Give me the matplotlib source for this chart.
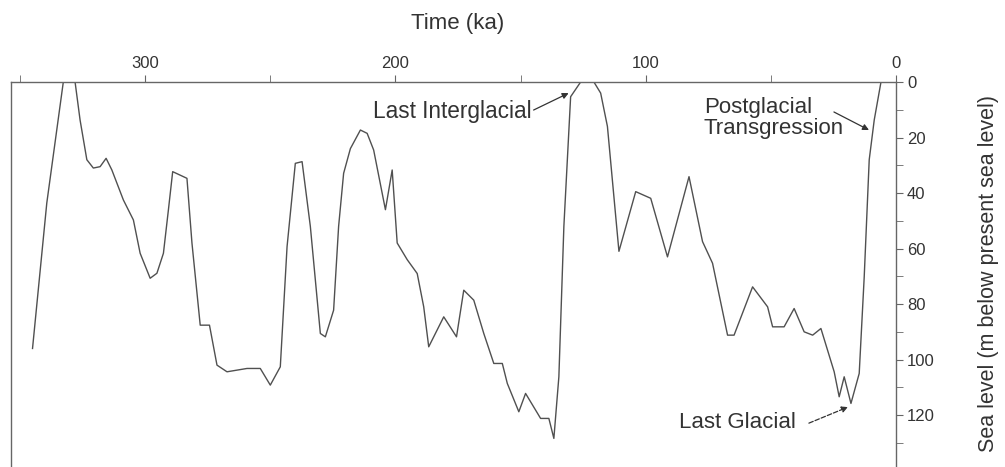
import matplotlib
matplotlib.use("Agg")
import matplotlib.pyplot as plt
from matplotlib.ticker import MultipleLocator

plt.rcParams['font.family'] = ['Liberation Sans', 'DejaVu Sans']

time_ka = [345, 339.3, 332.7, 328, 326, 323.3, 320.7, 318, 315.6, 313.3, 308.7, 304.7,
           302, 298, 295.3, 292.7, 290.7, 289, 283.3, 281.3, 278, 274.3, 271.3, 267.3,
           259.3, 254, 250, 246, 243.3, 240, 237.3, 234, 230, 228, 224.7, 222.7, 220.7,
           218, 214, 211.3, 208.7, 204, 201.3, 199.3, 195.3, 191.3, 188.7, 186.7, 180.7,
           175.6, 172.7, 168.7, 164.7, 160.7, 157.3, 155.3, 150.7, 148, 142, 138.7, 136.7,
           134.7, 132.7, 130, 126, 120.7, 118, 115.3, 110.7, 104, 98, 91.3, 82.7, 77.3,
           73.3, 67.3, 64.7, 57.3, 51.3, 49.3, 44.7, 40.7, 36.7, 33.3, 30, 24.7, 22.7,
           20.7, 18, 14.7, 12.7, 10.7, 8.7, 6]
sea_level_m = [96, 43.6, 0, 0, 13.7, 28, 31, 30.5, 27.5, 31.7, 42.5, 49.7,
               61.7, 70.7, 68.9, 61.7, 46, 32.3, 34.7, 58, 87.6, 87.6, 102, 104.4,
               103.2, 103.2, 109.2, 102.6, 59.3, 29.3, 28.7, 52, 90.6, 91.8, 82.2, 52, 32.9,
               24, 17.3, 18.5, 24.5, 46, 31.7, 58, 64, 69, 81, 95.4, 84.6,
               91.8, 75, 78.6, 90.6, 101.4, 101.4, 108.6, 118.8, 112.2, 121.2, 121.2, 128.4,
               106.2, 52, 5.3, 0, 0, 4, 16, 61, 39.5, 41.9, 63, 34.1, 57.5,
               65.3, 91.2, 91.2, 73.8, 81, 88.2, 88.2, 81.6, 90, 91.2, 88.8, 104.4, 113.4,
               106.2, 115.8, 105, 70.2, 28, 13.7, 0]

x_major = [300, 200, 100, 0]
y_major = [0, 20, 40, 60, 80, 100, 120]

TXT = '#333333'
fig = plt.figure(figsize=(10.05, 4.67), dpi=100)
ax = fig.add_axes([11/1005, 0.0, (896-11)/1005, (467-82)/467])
ax.plot(time_ka, sea_level_m, color='#505050', lw=1.0)

ax.set_xlim(353.6, 0)
ax.set_ylim(138.7, 0)

ax.xaxis.tick_top()
ax.set_xticks(x_major)
ax.xaxis.set_minor_locator(MultipleLocator(50))
ax.yaxis.tick_right()
ax.set_yticks(y_major)
ax.yaxis.set_minor_locator(MultipleLocator(10))

for s in ['top', 'left', 'right']:
    ax.spines[s].set_color('#666666')
    ax.spines[s].set_linewidth(1.0)
ax.spines['bottom'].set_visible(False)

ax.tick_params(axis='x', which='both', direction='out', colors='#666666',
               labelcolor=TXT, labelsize=12, length=5, pad=3, bottom=False)
ax.tick_params(axis='y', which='major', direction='out', colors='#666666',
               labelcolor=TXT, labelsize=12, length=5, pad=3, left=False)
ax.tick_params(axis='y', which='minor', direction='out', colors='#666666',
               length=5, left=False)

fig.text(458/1005, 1 - 23/467, 'Time (ka)', fontsize=16, color=TXT,
         ha='center', va='center')
fig.text(988/1005, 1 - 273/467, 'Sea level (m below present sea level)', fontsize=15.5,
         color=TXT, ha='center', va='center', rotation=90)

ax.text(208.8, 10.8, 'Last Interglacial', fontsize=16.3, color=TXT, ha='left', va='center')
ax.text(76.8, 13, 'Postglacial\nTransgression', fontsize=16, color=TXT, ha='left',
        va='center', linespacing=1.0)
ax.text(86.8, 122.5, 'Last Glacial', fontsize=16, color=TXT, ha='left', va='center')

arrow = dict(arrowstyle='-|>', color=TXT, lw=0.9, mutation_scale=9,
             shrinkA=0, shrinkB=0)
ax.annotate('', xy=(130.8, 4), xytext=(144.8, 10.1), arrowprops=arrow)
ax.annotate('', xy=(10.8, 17.3), xytext=(24.8, 10.8), arrowprops=arrow)
ax.annotate('', xy=(19.2, 117.1), xytext=(34.8, 122.9),
            arrowprops=dict(arrow, linestyle='--'))

fig.savefig('out.png', dpi=100)
